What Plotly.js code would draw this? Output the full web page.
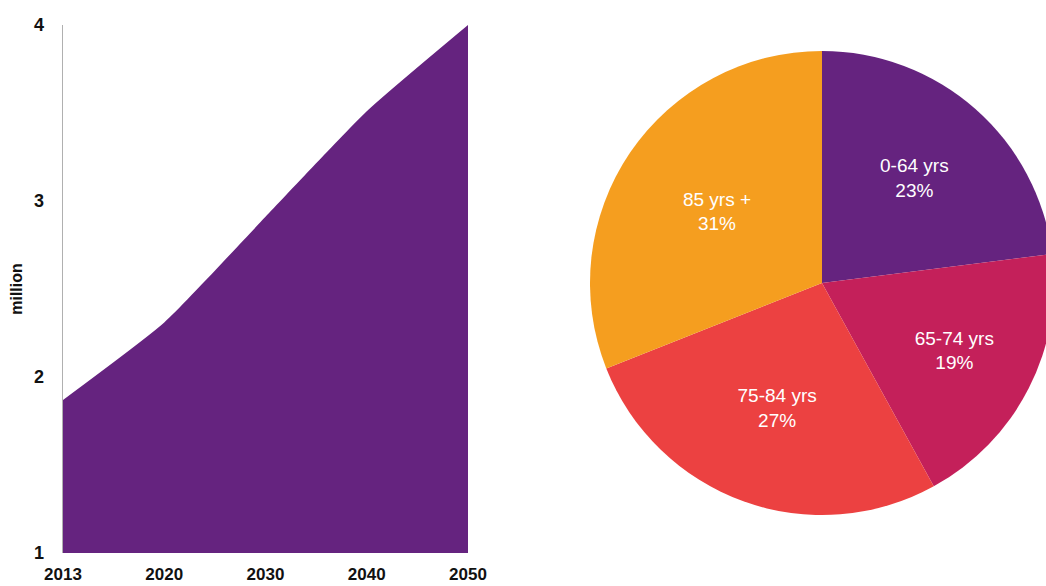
<!DOCTYPE html>
<html>
<head>
<meta charset="utf-8">
<script src="https://cdn.plot.ly/plotly-3.0.1.min.js"></script>
<style>
html,body{margin:0;padding:0;overflow:hidden;background:#fff;}
#chart{width:1100px;height:586px;}
</style>
</head>
<body>
<div id="chart"></div>
<script>
// Data
var years = ['2013', '2020', '2030', '2040', '2050'];
var populationMillion = [1.87, 2.31, 2.91, 3.51, 4.0];
var yTicks = [1, 2, 3, 4];

var ageGroups = ['0-64 yrs', '65-74 yrs', '75-84 yrs', '85 yrs +'];
var agePercent = [23, 19, 27, 31];
var ageColors = ['#65237f', '#c4205a', '#ec4141', '#f59e1f'];

var purple = '#65237f';
var W = 1100, H = 586;
var mL = 63, mR = 40, mT = 25, mB = 33;
var pw = W - mL - mR, ph = H - mT - mB;

var area = {
  type: 'scatter',
  x: years,
  y: populationMillion,
  mode: 'lines',
  fill: 'tozeroy',
  fillcolor: purple,
  line: {color: purple, width: 0, shape: 'spline', smoothing: 0.5},
  hoverinfo: 'x+y',
  showlegend: false
};

var pie = {
  type: 'pie',
  labels: ageGroups,
  values: agePercent,
  sort: false,
  direction: 'clockwise',
  rotation: 0,
  marker: {colors: ageColors, line: {width: 0}},
  texttemplate: '%{label}<br>%{percent:.0%}',
  textposition: 'inside',
  insidetextorientation: 'horizontal',
  textfont: {family: 'Liberation Sans, Arial, sans-serif', size: 19, color: '#ffffff'},
  domain: {
    x: [(590 - mL) / pw, (1054 - mL) / pw],
    y: [(H - mB - 515) / ph, (H - mB - 51) / ph]
  },
  showlegend: false
};

var layout = {
  width: W,
  height: H,
  margin: {l: mL, r: mR, t: mT, b: mB, pad: 0},
  paper_bgcolor: '#ffffff',
  plot_bgcolor: '#ffffff',
  font: {family: 'Liberation Sans, Arial, sans-serif', color: '#111111'},
  showlegend: false,
  xaxis: {
    type: 'category',
    domain: [0, (468 - mL) / pw],
    range: [0, years.length - 1],
    showgrid: false,
    zeroline: false,
    showline: false,
    ticks: '',
    ticklabelstandoff: 9,
    tickfont: {size: 17, weight: 'bold', color: '#111111'},
    fixedrange: true
  },
  yaxis: {
    range: [1, 4],
    tickvals: yTicks,
    ticktext: yTicks.map(String),
    showgrid: false,
    zeroline: false,
    showline: true,
    linecolor: '#b0b0b0',
    linewidth: 1.5,
    ticks: '',
    ticklabelstandoff: 14,
    tickfont: {size: 18, weight: 'bold', color: '#111111'},
    title: {text: 'million', font: {size: 16, weight: 'bold', color: '#111111'}, standoff: 7},
    fixedrange: true
  }
};

Plotly.newPlot('chart', [area, pie], layout, {displayModeBar: false, staticPlot: true});
</script>
</body>
</html>
